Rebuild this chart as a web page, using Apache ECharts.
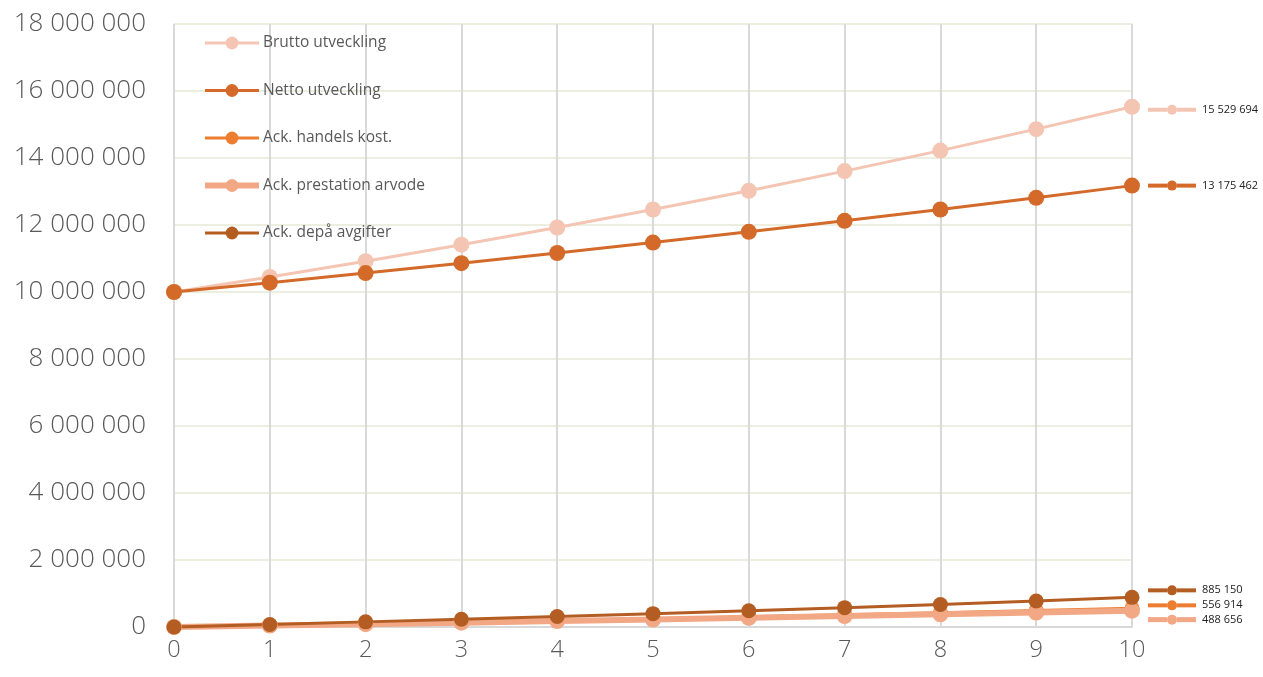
<!DOCTYPE html>
<html>
<head>
<meta charset="utf-8">
<script src="https://cdn.jsdelivr.net/npm/echarts@6/dist/echarts.min.js"></script>
<style>html,body{margin:0;padding:0;background:#fff}#c{width:1263px;height:677px}</style>
</head>
<body>
<div id="c"></div>
<script>
const years = ['0','1','2','3','4','5','6','7','8','9','10'];
const brutto = [10000000,10450000,10920250,11411661,11925186,12461819,13022601,13608618,14221006,14860951,15529694];
const netto = [10000000,10279000,10566000,10861000,11164000,11476000,11796000,12125000,12463000,12811000,13175462];
const handels = [0,45000,92000,141000,193000,247000,304000,364000,427000,490000,556914];
const prestation = [0,42000,85000,130000,176000,224000,274000,325000,379000,433000,488656];
const depa = [0,76000,153000,232000,314000,398000,486000,577000,673000,777000,885150];
const names = ['Brutto utveckling','Netto utveckling','Ack. handels kost.','Ack. prestation arvode','Ack. depå avgifter'];
const yTicks = [0,2000000,4000000,6000000,8000000,10000000,12000000,14000000,16000000,18000000];

const fmt = v => String(Math.round(v)).replace(/\B(?=(\d{3})+(?!\d))/g, ' ');

function mk(name, data, color, width, symSize, dotSize, lineH, offset) {
  return {
    name: name, type: 'line', data: data,
    symbol: 'circle', symbolSize: symSize,
    itemStyle: {color: color},
    lineStyle: {color: color, width: width},
    emphasis: {disabled: true},
    endLabel: {
      show: true, distance: 16, offset: offset,
      formatter: p => '{l|}{d|}{l|}{t|' + fmt(p.value) + '}',
      rich: {
        l: {width: 19, height: lineH, backgroundColor: color},
        d: {width: dotSize, height: dotSize, borderRadius: dotSize/2, backgroundColor: color},
        t: {fontFamily: 'Open Sans, sans-serif', fontSize: 11, color: '#222', padding: [0,0,0,6]}
      }
    }
  };
}

const legendWidths = [3, 3, 3, 6, 3];

const chart = echarts.init(document.getElementById('c'), null, {renderer: 'canvas'});
chart.setOption({
  animation: false,
  backgroundColor: '#fff',
  grid: {left: 174, right: 131, top: 24, bottom: 50, show: true, borderColor: '#ECEEE0', borderWidth: 1.5},
  legend: {
    orient: 'vertical', left: 197, top: 30,
    itemWidth: 54, itemHeight: 16, itemGap: 31.5,
    textStyle: {fontFamily: 'Open Sans, sans-serif', fontSize: 15.5, color: '#595959', padding: [0,0,0,-1]},
    data: names.map((n, i) => ({name: n, lineStyle: {width: legendWidths[i]}}))
  },
  xAxis: {
    type: 'category', data: years, boundaryGap: false,
    axisLine: {lineStyle: {color: '#D9D9D9', width: 2}},
    axisTick: {show: false},
    axisLabel: {fontFamily: 'Open Sans, sans-serif', fontWeight: 300, fontSize: 23.5, color: '#595959', margin: 11},
    splitLine: {show: true, lineStyle: {color: '#D9D9D9', width: 2}}
  },
  yAxis: {
    type: 'value', min: 0, max: 18000000, interval: 2000000,
    axisLine: {show: false}, axisTick: {show: false},
    axisLabel: {fontFamily: 'Open Sans, sans-serif', fontWeight: 300, fontSize: 26, color: '#595959', margin: 28,
      formatter: v => yTicks.indexOf(v) >= 0 ? fmt(v) : ''},
    splitLine: {lineStyle: {color: '#ECEEE0', width: 2}}
  },
  series: [
    mk(names[0], brutto, '#F4C5B3', 3, 16, 10, 4, [0, 3]),
    mk(names[1], netto, '#D36A29', 3, 16, 10, 4, [0, 0]),
    mk(names[2], handels, '#ED7D31', 3, 15, 10, 4, [0, -3]),
    mk(names[3], prestation, '#F2A785', 6, 16, 10, 5, [0, 9]),
    mk(names[4], depa, '#B35D22', 3, 15, 10, 4, [0, -7])
  ]
});
</script>
</body>
</html>
